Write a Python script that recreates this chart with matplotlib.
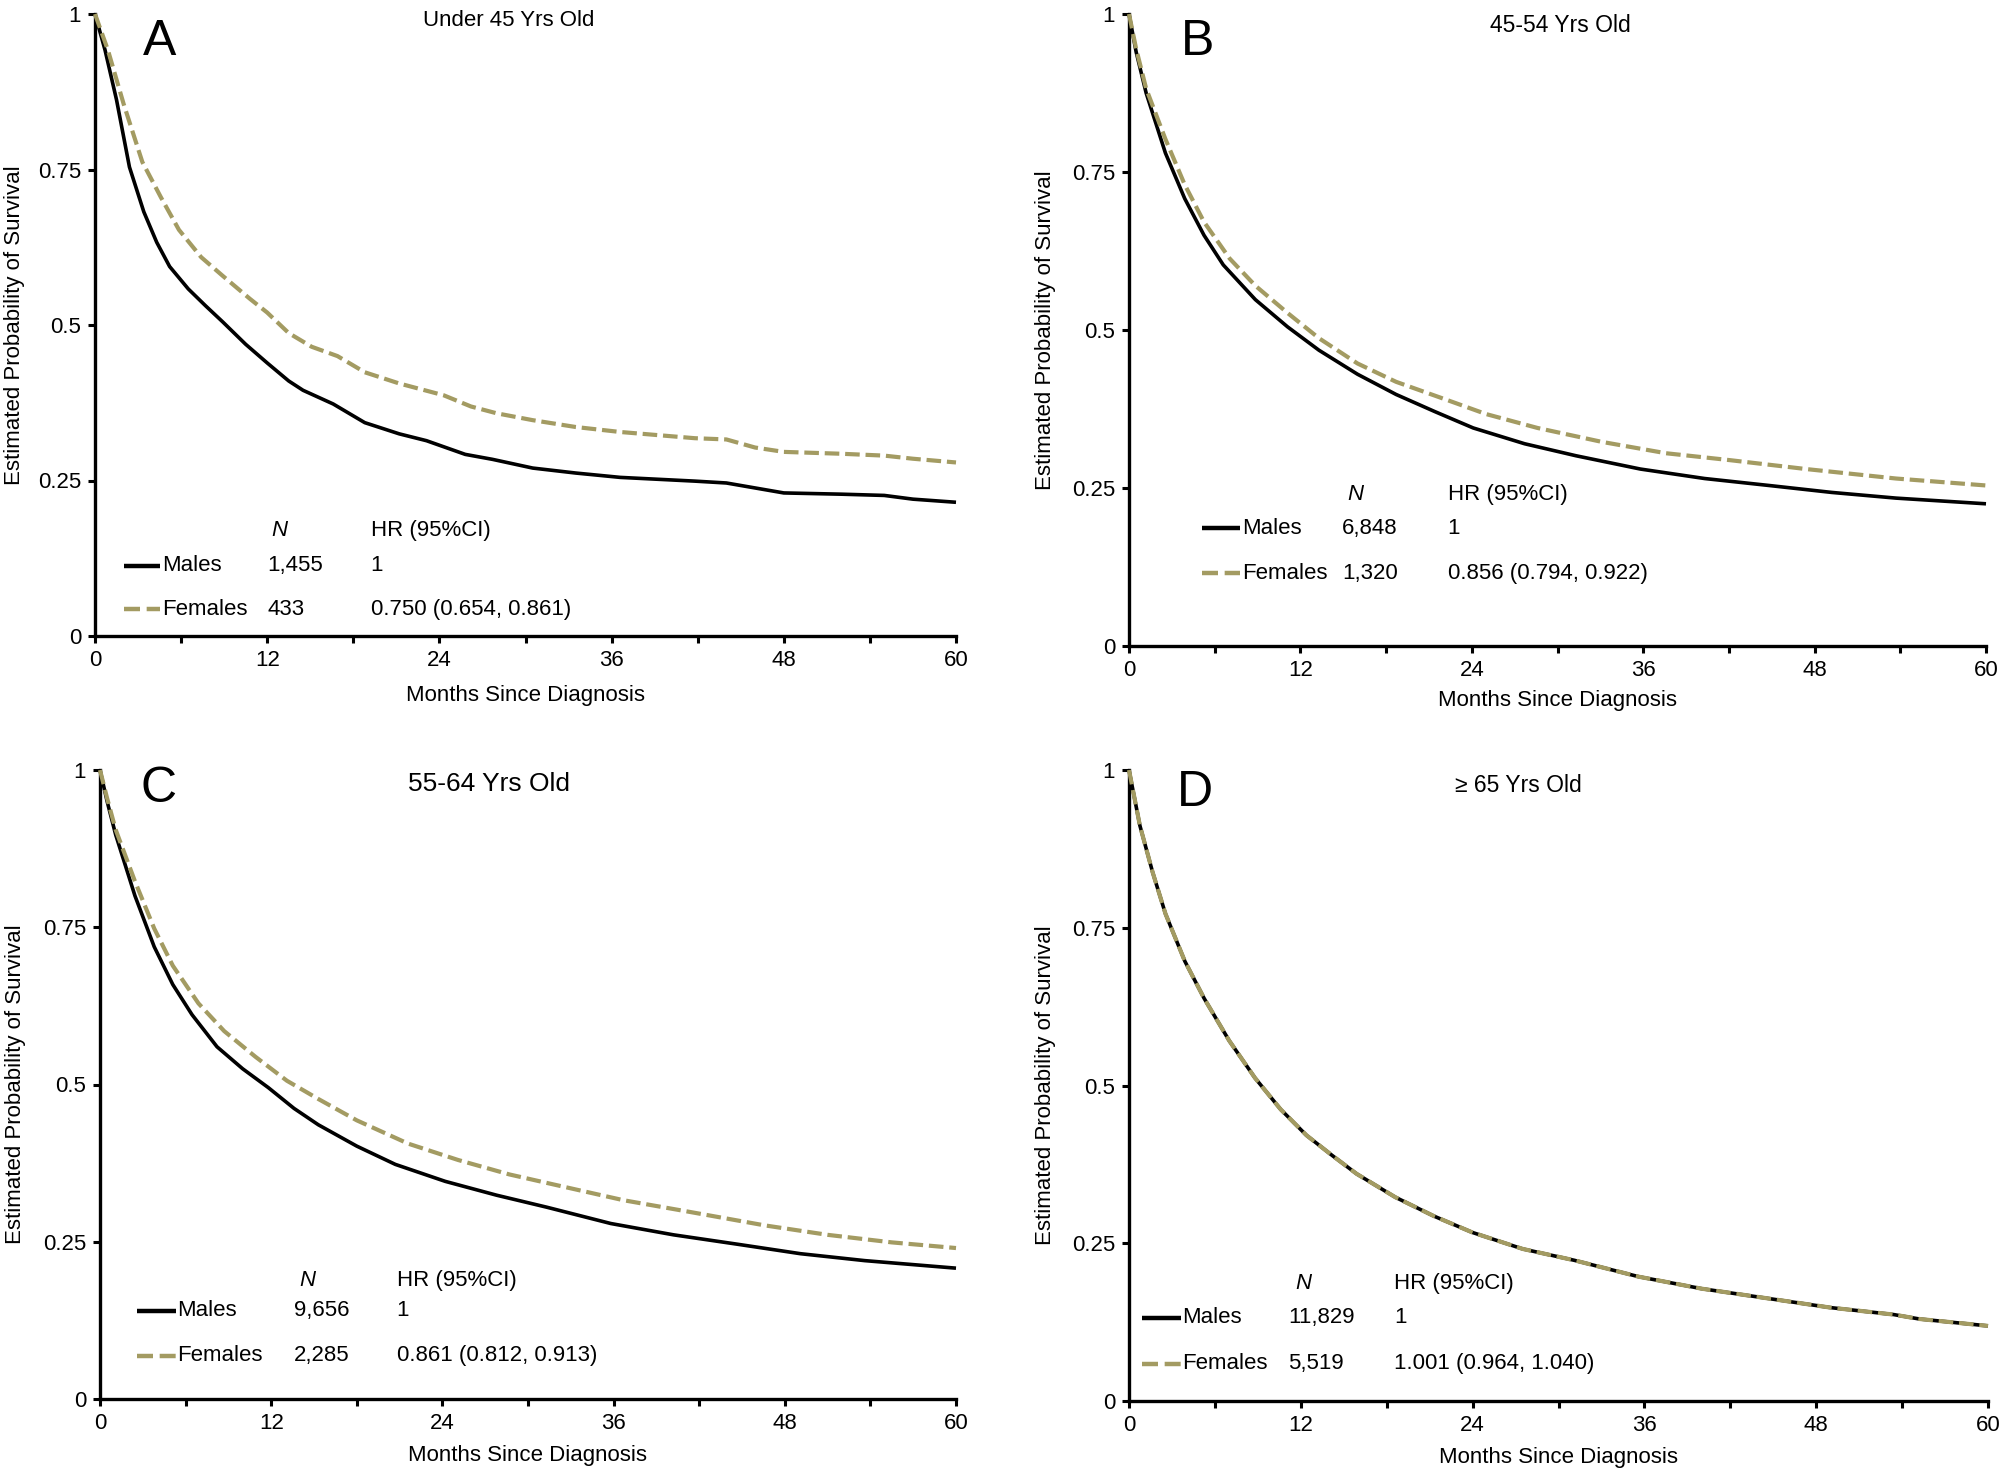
import matplotlib
matplotlib.use("Agg")
import matplotlib.pyplot as plt
from matplotlib.lines import Line2D
from matplotlib.ticker import MultipleLocator, FixedLocator

plt.rcParams['font.family'] = ['Liberation Sans', 'DejaVu Sans']

# ---------------- data ----------------
panel_letters = ["A", "B", "C", "D"]
panel_titles = ["Under 45 Yrs Old", "45-54 Yrs Old", "55-64 Yrs Old", "\u2265 65 Yrs Old"]
group_names = ["Males", "Females"]
n_counts = [["1,455", "433"], ["6,848", "1,320"], ["9,656", "2,285"], ["11,829", "5,519"]]
hr_texts = [["1", "0.750 (0.654, 0.861)"], ["1", "0.856 (0.794, 0.922)"],
            ["1", "0.861 (0.812, 0.913)"], ["1", "1.001 (0.964, 1.040)"]]

a_male_t = [0, 0.7, 1.5, 2.4, 3.4, 4.3, 5.2, 6.5, 7.7, 8.9, 10.5, 12, 13.5, 14.5, 16.6, 18.8,
            21.2, 23.1, 25.8, 27.7, 30.5, 33.5, 36.6, 41.8, 44, 46, 48, 52, 55, 57, 60]
a_male_s = [1, 0.942, 0.862, 0.754, 0.682, 0.633, 0.594, 0.558, 0.531, 0.505, 0.469, 0.439, 0.41,
            0.395, 0.373, 0.343, 0.325, 0.314, 0.292, 0.284, 0.27, 0.262, 0.255, 0.249, 0.246,
            0.238, 0.230, 0.228, 0.226, 0.220, 0.215]
a_fem_t = [0, 0.9, 2.0, 3.3, 4.6, 5.85, 7.4, 8.9, 10.8, 12, 13.5, 15.1, 16.9, 18.8, 21.2, 24.3,
           26.2, 28, 30.5, 33.5, 36.6, 41.8, 44, 46, 48, 52, 55, 57, 60]
a_fem_s = [1, 0.942, 0.855, 0.762, 0.705, 0.653, 0.609, 0.579, 0.542, 0.52, 0.487, 0.465, 0.45,
           0.424, 0.406, 0.387, 0.369, 0.358, 0.347, 0.336, 0.328, 0.318, 0.316, 0.303, 0.296,
           0.293, 0.290, 0.285, 0.279]

b_male_t = [0, 0.5, 1.2, 2.55, 3.9, 5.25, 6.6, 8.85, 11.1, 13.3, 16, 18.7, 21.4, 24.1, 27.7,
            31.3, 35.8, 40.3, 44.8, 49.2, 53.7, 60]
b_male_s = [1, 0.94, 0.875, 0.78, 0.708, 0.65, 0.603, 0.548, 0.505, 0.468, 0.43, 0.398, 0.371,
            0.345, 0.32, 0.301, 0.28, 0.265, 0.254, 0.243, 0.234, 0.225]
b_fem_t = [0, 0.5, 1.2, 2.55, 3.9, 5.25, 7.05, 8.85, 11.1, 13.3, 16, 18.7, 22.3, 25, 28.6,
           33.1, 37.6, 42.1, 47.4, 53.7, 60]
b_fem_s = [1, 0.945, 0.882, 0.802, 0.73, 0.671, 0.613, 0.57, 0.527, 0.487, 0.447, 0.418, 0.389,
           0.367, 0.345, 0.323, 0.305, 0.294, 0.28, 0.265, 0.254]

c_male_t = [0, 0.5, 1.1, 2.45, 3.8, 5.1, 6.45, 8.2, 10, 11.8, 13.6, 15.3, 18, 20.7, 24.2, 27.8,
            31.3, 35.8, 40.2, 44.7, 49.1, 53.6, 60]
c_male_s = [1, 0.95, 0.897, 0.8, 0.719, 0.659, 0.611, 0.56, 0.525, 0.495, 0.462, 0.436, 0.402,
            0.373, 0.346, 0.324, 0.305, 0.279, 0.261, 0.246, 0.231, 0.22, 0.208]
c_fem_t = [0, 0.5, 1.1, 2.45, 3.8, 5.1, 6.9, 8.7, 10.9, 13.1, 15.3, 18, 21.6, 25.1, 28.7, 32.2,
           36.7, 41.2, 46.6, 51, 55.5, 60]
c_fem_s = [1, 0.955, 0.905, 0.823, 0.748, 0.689, 0.629, 0.585, 0.544, 0.506, 0.477, 0.443,
           0.406, 0.38, 0.357, 0.339, 0.316, 0.298, 0.276, 0.261, 0.249, 0.24]

d_male_t = [0, 0.76, 1.65, 2.55, 3.9, 5.25, 7.0, 8.8, 10.6, 12.4, 14.2, 15.9, 18.6, 21.3, 24,
            27.5, 31.1, 35.6, 40, 44.5, 49, 53.4, 55.2, 60]
d_male_s = [1, 0.912, 0.838, 0.772, 0.697, 0.638, 0.571, 0.512, 0.462, 0.421, 0.389, 0.36, 0.323,
            0.293, 0.267, 0.241, 0.223, 0.197, 0.178, 0.163, 0.148, 0.137, 0.130, 0.119]
d_fem_t = [0, 0.76, 1.65, 2.55, 3.9, 5.25, 7.0, 8.8, 10.6, 12.4, 14.2, 15.9, 18.6, 21.3, 24,
           27.5, 31.1, 35.6, 40, 44.5, 49, 53.4, 55.2, 60]
d_fem_s = [1, 0.912, 0.838, 0.772, 0.697, 0.638, 0.571, 0.512, 0.462, 0.421, 0.389, 0.36, 0.323,
           0.293, 0.267, 0.241, 0.223, 0.197, 0.178, 0.163, 0.148, 0.137, 0.130, 0.119]

curves = [((a_male_t, a_male_s), (a_fem_t, a_fem_s)),
          ((b_male_t, b_male_s), (b_fem_t, b_fem_s)),
          ((c_male_t, c_male_s), (c_fem_t, c_fem_s)),
          ((d_male_t, d_male_s), (d_fem_t, d_fem_s))]

x_ticks = [0, 12, 24, 36, 48, 60]
y_ticks = [0, 0.25, 0.5, 0.75, 1]
y_ticklabels = ["0", "0.25", "0.5", "0.75", "1"]

# ---------------- layout / style ----------------
MALE_C = "black"
FEM_C = "#A39B62"
axes_rects = [
    [95 / 2005, 1 - 636 / 1475, 861 / 2005, 622 / 1475],
    [1129 / 2005, 1 - 646 / 1475, 857 / 2005, 632 / 1475],
    [100 / 2005, 1 - 1399 / 1475, 856 / 2005, 629 / 1475],
    [1129 / 2005, 1 - 1401 / 1475, 859 / 2005, 631 / 1475],
]
letter_pos = [(4.5, 0.955), (4.8, 0.955), (4.1, 0.97), (4.6, 0.964)]
title_pos = [(28.8, 0.99), (30.2, 0.982), (27.3, 0.978), (27.2, 0.976)]
title_size = [16, 16.5, 19, 16.5]
# key_x0, key_x1, name_x, num_x, nhead_x, hr_x, head_y, row1_y, row2_y
leg = [
    (2.0, 4.5, 4.7, 12.0, 12.3, 19.2, 0.169, 0.113, 0.043),
    (5.1, 7.8, 7.9, 14.9, 15.3, 22.3, 0.239, 0.186, 0.115),
    (2.6, 5.3, 5.4, 13.6, 14.0, 20.8, 0.189, 0.140, 0.069),
    (0.9, 3.6, 3.7, 11.1, 11.6, 18.5, 0.186, 0.132, 0.059),
]
ylabel_x = [-0.093, -0.098, -0.099, -0.097]
xlabel_y = [-0.096, -0.087, -0.090, -0.090]

fig = plt.figure(figsize=(20.05, 14.75), dpi=100)
LW = 2.6
DASH = (3.5, 1.4)

for i in range(4):
    ax = fig.add_axes(axes_rects[i])
    (mt, ms), (ft, fs) = curves[i]
    ax.plot(mt, ms, color=MALE_C, lw=LW, solid_capstyle='butt', clip_on=False, zorder=3)
    ax.plot(ft, fs, color=FEM_C, lw=LW + 0.4, dashes=DASH, clip_on=False, zorder=4)

    ax.set_xlim(0, 60)
    ax.set_ylim(0, 1)
    ax.xaxis.set_major_locator(FixedLocator(x_ticks))
    ax.xaxis.set_minor_locator(MultipleLocator(6))
    ax.yaxis.set_major_locator(FixedLocator(y_ticks))
    ax.set_yticklabels(y_ticklabels)
    ax.set_xticklabels([str(v) for v in x_ticks])
    for s in ["top", "right"]:
        ax.spines[s].set_visible(False)
    for s in ["left", "bottom"]:
        ax.spines[s].set_linewidth(2.4)
    ax.tick_params(which='both', direction='out', length=5, width=2.2, labelsize=16, pad=5)
    ax.tick_params(axis='y', which='minor', left=False)

    ax.set_xlabel("Months Since Diagnosis", fontsize=16)
    ax.set_ylabel("Estimated Probability of Survival", fontsize=16)
    ax.xaxis.set_label_coords(0.5, xlabel_y[i])
    ax.xaxis.label.set_va('center')
    ax.yaxis.set_label_coords(ylabel_x[i], 0.5)
    ax.yaxis.label.set_va('center')

    lx, ly = letter_pos[i]
    ax.text(lx, ly, panel_letters[i], fontsize=36, ha='center', va='center')
    tx, ty = title_pos[i]
    ax.text(tx, ty, panel_titles[i], fontsize=title_size[i], ha='center', va='center')

    k0, k1, nx, numx, nhx, hrx, hy, r1, r2 = leg[i]
    ax.text(nhx, hy, "N", fontsize=16, style='italic', ha='left', va='center')
    ax.text(hrx, hy, "HR (95%CI)", fontsize=16, ha='left', va='center')
    for r, (yy, col) in enumerate(zip([r1, r2], [MALE_C, FEM_C])):
        if r == 0:
            ax.add_line(Line2D([k0, k1], [yy, yy], color=col, lw=3.2, solid_capstyle='butt'))
        else:
            ax.add_line(Line2D([k0, k1], [yy, yy], color=col, lw=3.2, dashes=(3.6, 1.5)))
        ax.text(nx, yy, group_names[r], fontsize=16, ha='left', va='center')
        ax.text(numx, yy, n_counts[i][r], fontsize=16, ha='left', va='center')
        ax.text(hrx, yy, hr_texts[i][r], fontsize=16, ha='left', va='center')

fig.savefig("out.png", dpi=100, facecolor='white')
